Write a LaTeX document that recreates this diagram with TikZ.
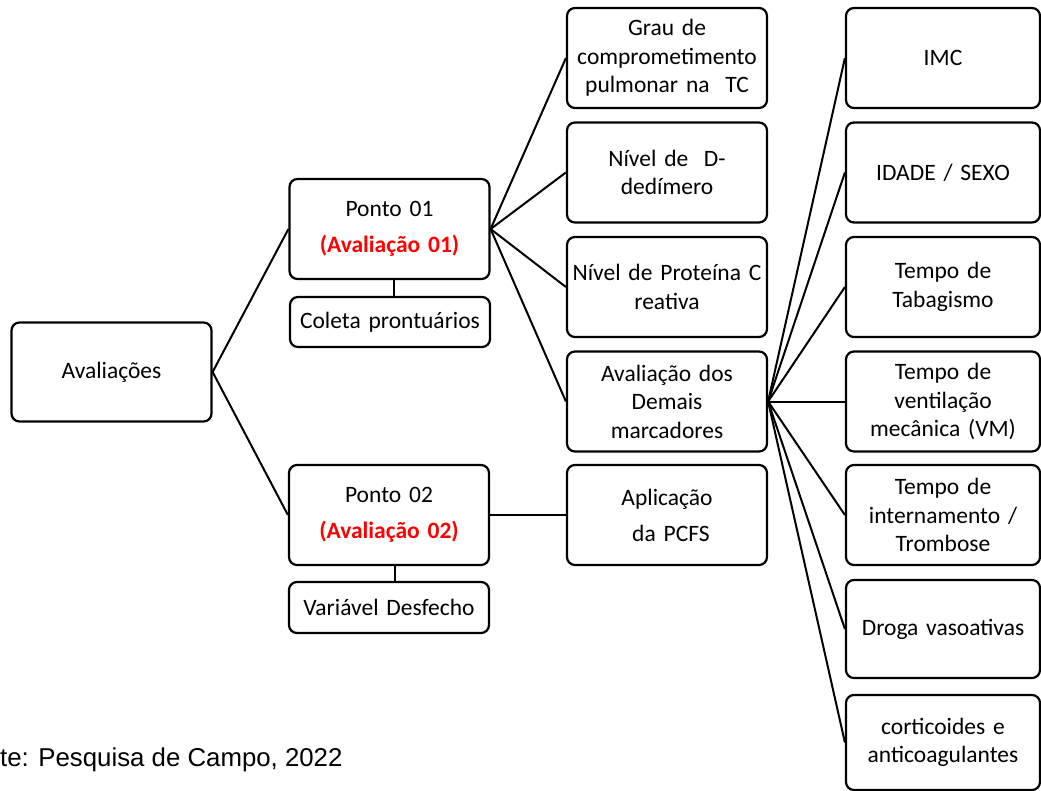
\documentclass[tikz,border=0pt]{standalone}
\usepackage{fontspec}
\usetikzlibrary{calc}
\setmainfont{Carlito}
\newfontfamily\arialfont{Liberation Sans}
\begin{document}
\begin{tikzpicture}[x=1pt,y=-1pt,
  box/.style={draw=black,line width=2.2pt,rounded corners=8pt,fill=white,
    inner sep=0pt,align=center,text width=#1-6pt,minimum width=#1,
    font=\fontsize{23.5}{28.5}\selectfont},
  box/.default=200pt,
  conn/.style={line width=2pt,black}]
\useasboundingbox (0,0) rectangle (1041,791);

% left
\node[box, minimum height=99pt] (av) at (111.5,372) {Avaliações};

% second column
\node[box, minimum height=100pt] (p1) at (389.5,229)
  {Ponto 01\\[7.5pt]{\bfseries\color{red}(Avaliação 01)}};
\node[box, minimum height=50pt] (cp) at (390,322) {Coleta prontuários};
\node[box, minimum height=100pt] (p2) at (389,515)
  {Ponto 02\\[7.5pt]{\bfseries\color{red}(Avaliação 02)}};
\node[box, minimum height=51pt] (vd) at (389,607.5) {Variável Desfecho};

% third column
\node[box, minimum height=100pt] (gr) at (667,58) {Grau de\\comprometimento\\pulmonar na\ \ TC};
\node[box, minimum height=100pt] (dd) at (667,172.5) {Nível de\ \ D-\\dedímero};
\node[box, minimum height=100pt] (pc) at (667,287) {Nível de Proteína C\\reativa};
\node[box, minimum height=100pt] (dm) at (667,401.5) {Avaliação dos\\Demais\\marcadores};
\node[box, minimum height=100pt] (ap) at (667,515)
  {Aplicação\\[7.5pt]\ da PCFS};

% right column
\node[box=194pt, minimum height=100pt] (imc) at (943,58) {IMC};
\node[box=194pt, minimum height=100pt] (id) at (943,172.5) {IDADE / SEXO};
\node[box=194pt, minimum height=100pt] (tb) at (943,287) {Tempo de\\Tabagismo};
\node[box=194pt, minimum height=100pt] (vm) at (943,401.5) {Tempo de\\ventilação\\mecânica (VM)};
\node[box=194pt, minimum height=100pt] (tr) at (943,515) {Tempo de\\internamento /\\Trombose};
\node[box=194pt, minimum height=98pt] (dr) at (943,629) {Droga vasoativas};
\node[box=194pt, minimum height=95pt] (co) at (943,742.5) {corticoides e\\anticoagulantes};

% connectors
\draw[conn] (av.east) -- (p1.west);
\draw[conn] (av.east) -- (p2.west);
\draw[conn] ($(p1.south)+(4.5,0)$) -- ($(cp.north)+(4,0)$);
\draw[conn] ($(p2.south)+(5.5,0)$) -- ($(vd.north)+(5.5,0)$);
\draw[conn] (p2.east) -- (ap.west);
\foreach \t in {gr,dd,pc,dm} \draw[conn] (p1.east) -- (\t.west);
\foreach \t in {imc,id,tb,vm,tr,dr,co} \draw[conn] (dm.east) -- (\t.west);

% footer
\node[anchor=base west, inner sep=0pt, font=\arialfont\fontsize{25.8}{31}\selectfont] (src) at (0,766) {te: Pesquisa de Campo, 2022};
\end{tikzpicture}
\end{document}
